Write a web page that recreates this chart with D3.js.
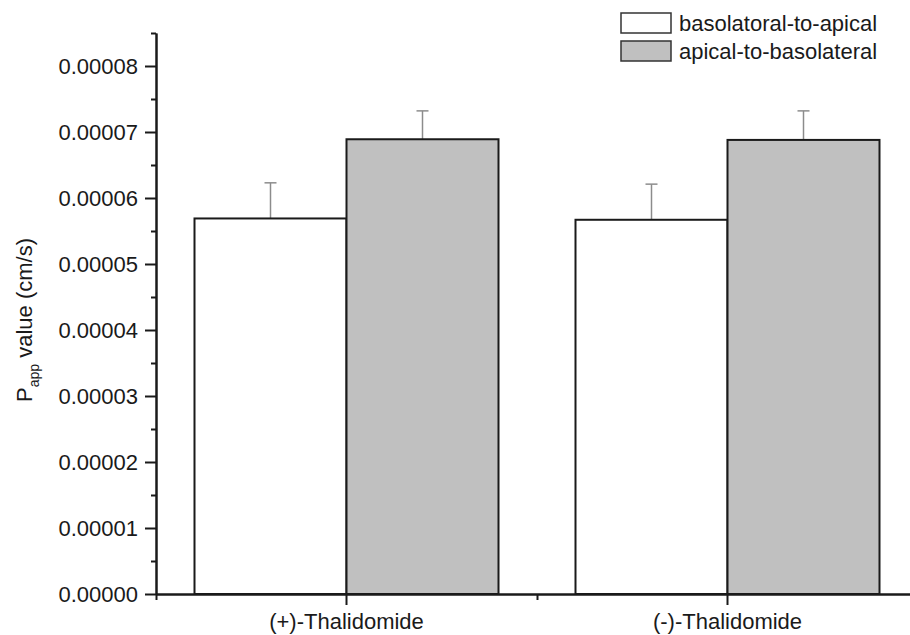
<!DOCTYPE html>
<html>
<head>
<meta charset="utf-8">
<script src="https://cdn.jsdelivr.net/npm/d3@7"></script>
<style>
  body { margin: 0; background: #fff; }
  svg { display: block; font-family: "Liberation Sans", Arial, sans-serif; }
  text { fill: #1a1a1a; }
</style>
</head>
<body>
<svg id="chart" width="910" height="635"></svg>
<script>
// data
const categories = ['(+)-Thalidomide', '(-)-Thalidomide'];
const seriesNames = ['basolatoral-to-apical', 'apical-to-basolateral'];
const basoToApical = [0.0000569, 0.0000567];
const basoToApicalErr = [0.0000054, 0.0000054];
const apicalToBaso = [0.0000689, 0.0000688];
const apicalToBasoErr = [0.0000043, 0.0000044];
const yTicks = [0, 0.00001, 0.00002, 0.00003, 0.00004, 0.00005, 0.00006, 0.00007, 0.00008];
const yMinorTicks = [0.000005, 0.000015, 0.000025, 0.000035, 0.000045, 0.000055, 0.000065, 0.000075, 0.000085];
const fills = ['#ffffff', '#c0c0c0'];

const svg = d3.select('#chart');
const plotLeft = 156, plotRight = 918, plotTop = 33, plotBottom = 594;
const barW = 152;

const x = d3.scaleBand().domain(categories).range([plotLeft, plotRight]);
const y = d3.scaleLinear().domain([0, 0.000085]).range([plotBottom, plotTop]);

const series = [
  { name: seriesNames[0], values: basoToApical, errs: basoToApicalErr, fill: fills[0], off: -barW },
  { name: seriesNames[1], values: apicalToBaso, errs: apicalToBasoErr, fill: fills[1], off: 0 }
];

const cx = c => x(c) + x.bandwidth() / 2;

// error bars (drawn first so bar outline sits on top)
series.forEach(s => {
  const g = svg.append('g').attr('stroke', '#8c8c8c').attr('stroke-width', 1.5);
  categories.forEach((c, i) => {
    const mx = cx(c) + s.off + barW / 2;
    g.append('line')
      .attr('x1', mx).attr('x2', mx)
      .attr('y1', y(s.values[i])).attr('y2', y(s.values[i] + s.errs[i]));
    g.append('line')
      .attr('x1', mx - 6).attr('x2', mx + 6)
      .attr('y1', y(s.values[i] + s.errs[i])).attr('y2', y(s.values[i] + s.errs[i]));
  });
});

// bars
series.forEach(s => {
  svg.append('g').selectAll('rect')
    .data(categories)
    .join('rect')
    .attr('x', c => cx(c) + s.off)
    .attr('y', (c, i) => y(s.values[i]))
    .attr('width', barW)
    .attr('height', (c, i) => y(0) - y(s.values[i]))
    .attr('fill', s.fill)
    .attr('stroke', '#1a1a1a')
    .attr('stroke-width', 2);
});

// y axis
const yAxis = svg.append('g').attr('transform', `translate(${plotLeft},0)`)
  .call(d3.axisLeft(y).tickValues(yTicks).tickFormat(d3.format('.5f'))
    .tickSize(11).tickPadding(7).tickSizeOuter(0));
yAxis.selectAll('text').attr('font-size', 22).attr('font-family', '"Liberation Sans", Arial, sans-serif');
svg.append('g').attr('transform', `translate(${plotLeft},0)`)
  .call(d3.axisLeft(y).tickValues(yMinorTicks).tickFormat('').tickSize(5).tickSizeOuter(0));

// x axis
const xAxis = svg.append('g').attr('transform', `translate(0,${plotBottom})`)
  .call(d3.axisBottom(x).tickSize(11).tickPadding(8).tickSizeOuter(0));
xAxis.selectAll('text').attr('font-size', 22).attr('font-family', '"Liberation Sans", Arial, sans-serif');
svg.append('g').attr('transform', `translate(0,${plotBottom})`)
  .call(d3.axisBottom(d3.scaleLinear().domain([0, 1]).range([plotLeft, plotRight]))
    .tickValues([0, 0.5, 1]).tickFormat('').tickSize(6).tickSizeOuter(0));

svg.selectAll('.domain, .tick line').attr('stroke', '#1a1a1a').attr('stroke-width', 2);
svg.selectAll('.tick text').attr('fill', '#1a1a1a');

// y title
const yt = svg.append('text')
  .attr('transform', 'translate(32,320) rotate(-90)')
  .attr('text-anchor', 'middle')
  .attr('font-size', 22);
yt.append('tspan').text('P');
yt.append('tspan').attr('font-size', 14).attr('dy', 7).text('app');
yt.append('tspan').attr('dy', -7).text(' value (cm/s)');

// legend
const legend = svg.append('g');
series.forEach((s, i) => {
  legend.append('rect')
    .attr('x', 621).attr('y', 13 + i * 28)
    .attr('width', 50).attr('height', 20)
    .attr('fill', s.fill).attr('stroke', '#333').attr('stroke-width', 1.5);
  legend.append('text')
    .attr('x', 679).attr('y', 31 + i * 28)
    .attr('font-size', 22)
    .text(s.name);
});
</script>
</body>
</html>
